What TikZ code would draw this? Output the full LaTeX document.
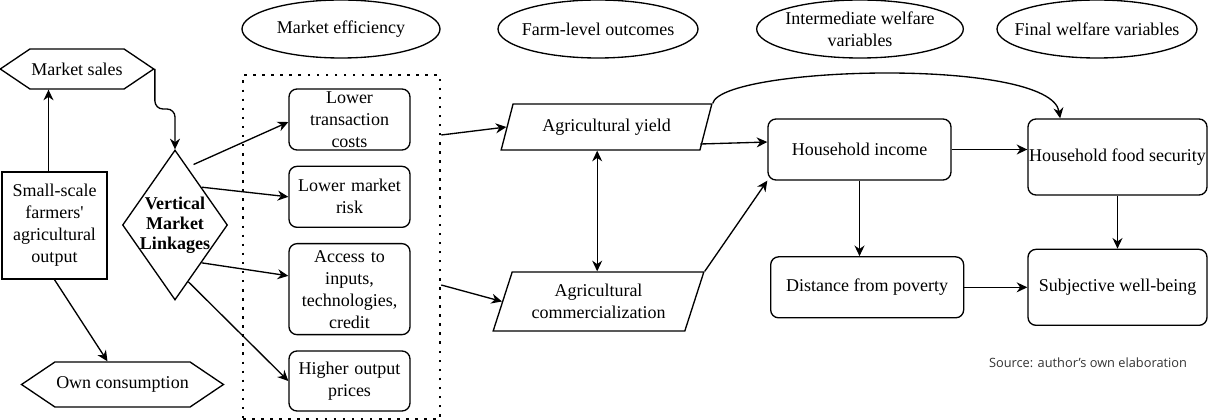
\documentclass[tikz,border=0pt]{standalone}
\usepackage{fontspec}
\setmainfont{Liberation Serif}
\newfontfamily\notefont{Open Sans}
\usepackage{tikz}
\usetikzlibrary{shapes.geometric, shapes.symbols, arrows.meta, positioning, calc}

\begin{document}
\begin{tikzpicture}[
    x=0.75pt, y=-0.75pt,
    font=\rmfamily\fontsize{13.5}{16.5}\selectfont,
    line width=1pt,
    heading/.style={ellipse, draw, minimum width=148.5pt, minimum height=43.5pt, inner xsep=-9pt, inner ysep=0pt, align=center},
    hexa/.style={signal, signal to=west and east, signal pointer angle=68, draw, minimum height=30pt, inner sep=1pt},
    farmbox/.style={rectangle, draw, text width=76pt, align=center, minimum width=78.75pt, minimum height=80.25pt, inner sep=1pt},
    linkage/.style={diamond, draw, minimum width=78.75pt, minimum height=112.5pt, inner sep=0pt},
    effect/.style={rectangle, draw, rounded corners=6pt, text width=88pt, align=center, minimum width=90.75pt, minimum height=45.75pt, inner sep=1pt},
    frame/.style={rectangle, draw, line width=1.9pt, dash pattern=on 1.9pt off 4.9pt, minimum width=147.75pt, minimum height=258pt},
    outcome/.style={trapezium, draw, trapezium stretches body, inner sep=1pt, align=center},
    welfare/.style={rectangle, draw, rounded corners=6pt, align=center, inner xsep=0pt},
    arrow/.style={-{Stealth[length=8pt, width=7.5pt]}},
    biarrow/.style={{Stealth[length=8pt, width=7.5pt]}-{Stealth[length=8pt, width=7.5pt]}}
]
    \useasboundingbox (0,0) rectangle (1208,420);

    % column headings
    \node[heading] (hEff) at (341,29) {Market efficiency};
    \node[heading, minimum width=150pt] (hFarm) at (598,29) {Farm-level outcomes};
    \node[heading, minimum width=155pt] (hInter) at (860,29) {Intermediate welfare\\variables};
    \node[heading, minimum width=150pt] (hFinal) at (1097,29) {Final welfare variables};

    % farmers and their output
    \node[hexa, minimum width=112.5pt] (ms) at (77,69) {Market sales};
    \node[farmbox] (farm) at (54.5,225.5) {Small-scale\\farmers\textquotesingle\\agricultural\\output};
    \node[hexa, minimum width=135.75pt, minimum height=33.75pt] (own) at (122.5,384.5) {Own consumption};
    \node[linkage, label={[font=\bfseries\fontsize{13.5}{15}\selectfont, align=center]center:Vertical\\Market\\Linkages}] (vml) at (175,225) {};

    % market efficiency
    \node[effect] (lowTC) at (349.5,119.5) {Lower\\transaction\\costs};
    \node[effect, below=11.25pt of lowTC] (lowMR) {Lower market\\risk};
    \node[effect, below=11.25pt of lowMR, minimum height=68.25pt] (access) {Access to\\inputs,\\technologies,\\credit};
    \node[effect, below=11.25pt of access, minimum height=45pt] (highOP) {Higher output\\prices};
    \node[frame] (effFrame) at (341.5,247) {};

    % farm-level outcomes
    \node[outcome, trapezium left angle=58, trapezium right angle=122, minimum width=158pt, minimum height=34.5pt] (yield) at (606.5,127) {Agricultural yield};
    \node[outcome, trapezium left angle=63, trapezium right angle=117, minimum width=158pt, minimum height=44.25pt] (comm) at (598.5,301.5) {Agricultural\\commercialization};

    % welfare
    \node[welfare, minimum width=137.25pt, minimum height=45.75pt] (income) at (859.5,149.5) {Household income};
    \node[welfare, minimum width=134.25pt, minimum height=57pt] (food) at (1117.5,157) {Household food security};
    \node[welfare, minimum width=134.25pt, minimum height=57pt, below=39.75pt of food] (wellb) {Subjective well-being};
    \node[welfare, minimum width=144.75pt, minimum height=45.75pt, left=47.25pt of wellb] (poverty) {Distance from poverty};

    \node[font=\notefont\fontsize{9.6}{11}\selectfont, text=black!80] (src) at (1088,363) {Source: author’s own elaboration};

    % arrows
    \draw[arrow] ([xshift=-4.5pt]farm.north) -- ([xshift=-4.5pt]farm.north |- ms.south);
    \draw[arrow, rounded corners=6pt] (ms.east) -- ++(0,40) -| (vml.north);
    \draw[arrow] (farm.south) -- ([xshift=-11.25pt]own.north);
    \draw[arrow] ([shift={(-6pt,17pt)}]vml.north east) -- ([yshift=-1.9pt]lowTC.west);
    \draw[arrow] (vml.north east) -- (lowMR.west);
    \draw[arrow] (vml.south east) -- ([yshift=10pt]access.west);
    \draw[arrow] ($(vml.south east)!0.5!(vml.south)$) -- (highOP.west);
    \draw[arrow] ([yshift=84pt]effFrame.east) -- (yield.west);
    \draw[arrow] ([yshift=-28.5pt]effFrame.east) -- (comm.west);
    \draw[biarrow] ([xshift=-7pt]yield.south) -- ([xshift=-7pt]yield.south |- comm.north);
    \draw[arrow] ([yshift=5pt]yield.bottom right corner) -- ([yshift=5.6pt]income.west);
    \draw[arrow] (comm.top right corner) -- (income.south west);
    \draw[arrow] (yield.top right corner) .. controls +(7.5pt,28pt) and +(-7.5pt,46pt) .. ([xshift=-43pt]food.north);
    \draw[arrow] (income.east) -- (income.east -| food.west);
    \draw[arrow] (income.south) -- (income.south |- poverty.north);
    \draw[arrow] (food.south) -- (wellb.north);
    \draw[arrow] (poverty.east) -- (wellb.west);
\end{tikzpicture}
\end{document}
